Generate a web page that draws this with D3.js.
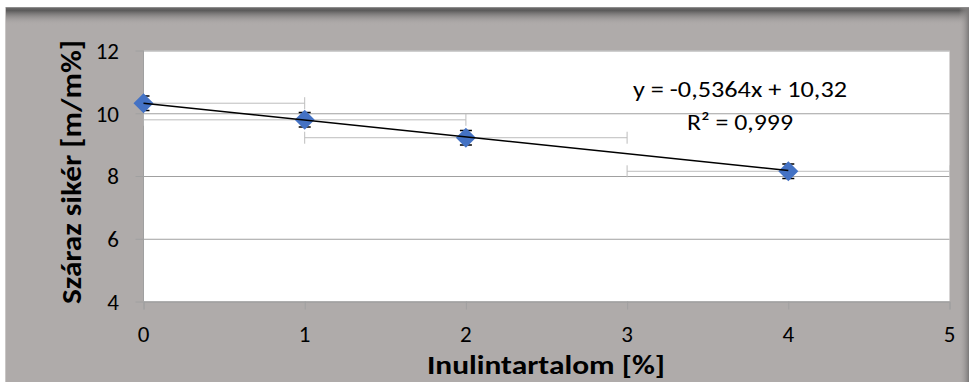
<!DOCTYPE html>
<html lang="hu">
<head>
  <meta charset="utf-8">
  <script src="https://d3js.org/d3.v7.min.js"></script>
  <style>
    body { margin: 0; background: #ffffff; }
    svg { display: block; }
  </style>
</head>
<body>
  <script type="text/javascript">
    // data
    var inulin = [0, 1, 2, 4];
    var sziker = [10.32, 9.79, 9.22, 8.15];
    var xError = [1, 1, 1, 1];
    var yError = [0.23, 0.23, 0.23, 0.23];
    var xTicks = [0, 1, 2, 3, 4, 5];
    var yTicks = [4, 6, 8, 10, 12];
    var trend = { slope: -0.5364, intercept: 10.32, from: 0, to: 4 };
    var equationLines = ["y = -0,5364x + 10,32", "R² = 0,999"];

    var dim = {
      "width": 969,
      "height": 382,
      "left": 143.5,
      "right": 949.5,
      "top": 50.5,
      "bottom": 301.5,
      "font": "Carlito, Calibri, Lato, sans-serif"
    };

    var svg = d3.select("body")
      .append("svg")
      .attr("width", dim.width)
      .attr("height", dim.height);

    var defs = svg.append("defs");

    // shading at the top of the chart area
    var topGrad = defs.append("linearGradient")
      .attr("id", "topShade")
      .attr("x1", 0).attr("y1", 0).attr("x2", 0).attr("y2", 1);
    topGrad.append("stop").attr("offset", "0%").attr("stop-color", "#6e6d6d");
    topGrad.append("stop").attr("offset", "20%").attr("stop-color", "#5c5b5b");
    topGrad.append("stop").attr("offset", "100%").attr("stop-color", "#afabaa").attr("stop-opacity", 0);

    // shading at the right of the chart area
    var rightGrad = defs.append("linearGradient")
      .attr("id", "rightShade")
      .attr("x1", 0).attr("y1", 0).attr("x2", 1).attr("y2", 0);
    rightGrad.append("stop").attr("offset", "0%").attr("stop-color", "#afabaa").attr("stop-opacity", 0);
    rightGrad.append("stop").attr("offset", "100%").attr("stop-color", "#7a7878");

    defs.append("clipPath")
      .attr("id", "plotClip")
      .append("rect")
      .attr("x", dim.left)
      .attr("y", dim.top - 1)
      .attr("width", dim.right - dim.left)
      .attr("height", dim.bottom - dim.top + 2);

    // chart background
    svg.append("rect")
      .attr("x", 5)
      .attr("y", 7)
      .attr("width", dim.width - 5)
      .attr("height", dim.height - 7)
      .attr("fill", "#afabaa");

    svg.append("rect")
      .attr("x", 5)
      .attr("y", 7)
      .attr("width", dim.width - 5)
      .attr("height", 18)
      .attr("fill", "url(#topShade)");

    svg.append("rect")
      .attr("x", 959)
      .attr("y", 7)
      .attr("width", 10)
      .attr("height", dim.height - 7)
      .attr("fill", "url(#rightShade)");

    svg.append("line")
      .attr("x1", 5).attr("x2", dim.width)
      .attr("y1", 7.5).attr("y2", 7.5)
      .attr("stroke", "#8e8d8d");

    svg.append("line")
      .attr("x1", 5.5).attr("x2", 5.5)
      .attr("y1", 7).attr("y2", dim.height)
      .attr("stroke", "#c9c6c5");

    // plot area
    svg.append("rect")
      .attr("x", dim.left)
      .attr("y", dim.top)
      .attr("width", dim.right - dim.left)
      .attr("height", dim.bottom - dim.top)
      .attr("fill", "#ffffff");

    // scales
    var xScale = d3.scaleLinear()
      .domain([0, 5])
      .range([dim.left, dim.right]);

    var yScale = d3.scaleLinear()
      .domain([4, 12])
      .range([dim.bottom, dim.top]);

    // horizontal gridlines with ticks to the left
    svg.append("g")
      .attr("transform", "translate(" + dim.left + ",0)")
      .call(d3.axisLeft(yScale)
        .tickValues(yTicks)
        .tickSize(8)
        .tickFormat(""))
      .call(function(g) { g.select(".domain").remove(); })
      .selectAll(".tick line")
      .attr("x2", dim.right - dim.left)
      .attr("x1", -8)
      .attr("stroke", "#a0a0a0");

    // vertical axis line
    svg.append("line")
      .attr("x1", dim.left).attr("x2", dim.left)
      .attr("y1", dim.top).attr("y2", dim.bottom)
      .attr("stroke", "#a0a0a0");

    // x axis
    var xAxis = svg.append("g")
      .attr("transform", "translate(0," + dim.bottom + ")")
      .call(d3.axisBottom(xScale)
        .tickValues(xTicks)
        .tickSize(8)
        .tickFormat(""));
    xAxis.select(".domain").attr("stroke", "#a0a0a0");
    xAxis.selectAll(".tick line").attr("stroke", "#a0a0a0");

    // y tick labels
    svg.selectAll(".ylab")
      .data(yTicks)
      .enter()
      .append("text")
      .attr("class", "ylab")
      .attr("x", 119)
      .attr("y", function(d) { return yScale(d); })
      .attr("dy", "0.36em")
      .attr("text-anchor", "end")
      .attr("font-family", dim.font)
      .attr("font-size", 23)
      .attr("fill", "#000")
      .text(function(d) { return d; });

    // x tick labels
    svg.selectAll(".xlab")
      .data(xTicks)
      .enter()
      .append("text")
      .attr("class", "xlab")
      .attr("x", function(d) { return xScale(d); })
      .attr("y", 334)
      .attr("dy", "0.36em")
      .attr("text-anchor", "middle")
      .attr("font-family", dim.font)
      .attr("font-size", 23)
      .attr("fill", "#000")
      .text(function(d) { return d; });

    var plot = svg.append("g").attr("clip-path", "url(#plotClip)");

    // horizontal error bars
    var capH = 6;
    inulin.forEach(function(x, i) {
      var y = yScale(sziker[i]);
      var lo = xScale(x - xError[i]);
      var hi = xScale(x + xError[i]);
      plot.append("line")
        .attr("x1", lo).attr("x2", hi)
        .attr("y1", y).attr("y2", y)
        .attr("stroke", "#bdbdbd");
      [lo, hi].forEach(function(cx) {
        plot.append("line")
          .attr("x1", cx).attr("x2", cx)
          .attr("y1", y - capH).attr("y2", y + capH)
          .attr("stroke", "#bdbdbd");
      });
    });

    // vertical error bars
    var capW = 6;
    inulin.forEach(function(x, i) {
      var cx = xScale(x);
      var lo = yScale(sziker[i] - yError[i]);
      var hi = yScale(sziker[i] + yError[i]);
      plot.append("line")
        .attr("x1", cx).attr("x2", cx)
        .attr("y1", lo).attr("y2", hi)
        .attr("stroke", "#000")
        .attr("stroke-width", 1.2);
      [lo, hi].forEach(function(cy) {
        plot.append("line")
          .attr("x1", cx - capW).attr("x2", cx + capW)
          .attr("y1", cy).attr("y2", cy)
          .attr("stroke", "#000")
          .attr("stroke-width", 1.5);
      });
    });

    // markers
    svg.selectAll(".marker")
      .data(inulin)
      .enter()
      .append("path")
      .attr("class", "marker")
      .attr("d", function(d, i) {
        var cx = xScale(d), cy = yScale(sziker[i]);
        return "M" + cx + "," + (cy - 10) + "L" + (cx + 10) + "," + cy +
          "L" + cx + "," + (cy + 10) + "L" + (cx - 10) + "," + cy + "Z";
      })
      .attr("fill", "#4472c4");

    // linear trendline
    svg.append("line")
      .attr("x1", xScale(trend.from))
      .attr("y1", yScale(trend.intercept + trend.slope * trend.from))
      .attr("x2", xScale(trend.to))
      .attr("y2", yScale(trend.intercept + trend.slope * trend.to))
      .attr("stroke", "#000")
      .attr("stroke-width", 1.5);

    // trendline equation
    svg.append("text")
      .attr("x", 740)
      .attr("y", 97)
      .attr("text-anchor", "middle")
      .attr("font-family", dim.font)
      .attr("font-size", 23)
      .attr("textLength", 214)
      .attr("lengthAdjust", "spacingAndGlyphs")
      .text(equationLines[0]);

    svg.append("text")
      .attr("x", 740)
      .attr("y", 130)
      .attr("text-anchor", "middle")
      .attr("font-family", dim.font)
      .attr("font-size", 23)
      .attr("textLength", 106)
      .attr("lengthAdjust", "spacingAndGlyphs")
      .text(equationLines[1]);

    // x axis title
    svg.append("text")
      .attr("x", 546)
      .attr("y", 374)
      .attr("text-anchor", "middle")
      .attr("font-family", dim.font)
      .attr("font-size", 27)
      .attr("font-weight", "bold")
      .attr("textLength", 238)
      .attr("lengthAdjust", "spacingAndGlyphs")
      .text("Inulintartalom [%]");

    // y axis title
    svg.append("text")
      .attr("transform", "translate(81,172) rotate(-90)")
      .attr("text-anchor", "middle")
      .attr("font-family", dim.font)
      .attr("font-size", 28)
      .attr("font-weight", "bold")
      .attr("textLength", 264)
      .attr("lengthAdjust", "spacingAndGlyphs")
      .text("Száraz sikér [m/m%]");
  </script>
</body>
</html>
